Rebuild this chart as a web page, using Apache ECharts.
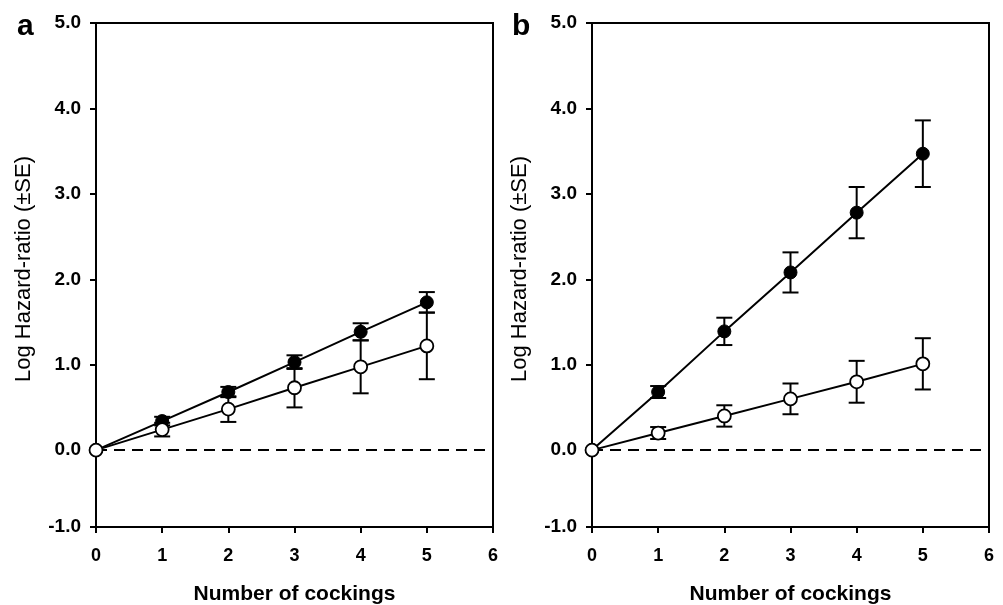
<!DOCTYPE html>
<html>
<head>
<meta charset="utf-8">
<script src="https://cdn.jsdelivr.net/npm/echarts@6/dist/echarts.min.js"></script>
<style>
  html, body { margin: 0; padding: 0; background: #fff; }
  #chart { width: 1003px; height: 605px; }
</style>
</head>
<body>
<div id="chart"></div>
<script>
const cockings = [0, 1, 2, 3, 4, 5];

// panel a
const aFilled = [0, 0.34, 0.68, 1.03, 1.385, 1.73];
const aFilledSE = [0, 0.05, 0.06, 0.08, 0.10, 0.12];
const aOpen = [0, 0.24, 0.48, 0.73, 0.975, 1.22];
const aOpenSE = [0, 0.08, 0.15, 0.23, 0.31, 0.39];

// panel b
const bFilled = [0, 0.68, 1.39, 2.08, 2.78, 3.47];
const bFilledSE = [0, 0.07, 0.16, 0.235, 0.30, 0.39];
const bOpen = [0, 0.20, 0.40, 0.60, 0.80, 1.01];
const bOpenSE = [0, 0.07, 0.125, 0.18, 0.245, 0.30];

// the original plot puts its "-1.0" tick a little above -1 (the bottom gap is shorter)
const yTickValues = [-0.9, 0, 1, 2, 3, 4, 5];
const yTickLabels = ['-1.0', '0.0', '1.0', '2.0', '3.0', '4.0', '5.0'];

const font = '"Liberation Sans", Arial, sans-serif';

function pairs(ys) {
  return cockings.map((x, i) => [x, ys[i]]);
}

function errData(ys, se) {
  return cockings
    .map((x, i) => [x, ys[i] - se[i], ys[i] + se[i]])
    .filter((d, i) => se[i] > 0);
}

function renderErr(params, api) {
  const x = api.value(0);
  const lo = api.coord([x, api.value(1)]);
  const hi = api.coord([x, api.value(2)]);
  const hw = 8;
  const style = { stroke: '#000', lineWidth: 2 };
  return {
    type: 'group',
    children: [
      { type: 'line', shape: { x1: lo[0], y1: lo[1], x2: hi[0], y2: hi[1] }, style },
      { type: 'line', shape: { x1: lo[0] - hw, y1: lo[1], x2: lo[0] + hw, y2: lo[1] }, style },
      { type: 'line', shape: { x1: hi[0] - hw, y1: hi[1], x2: hi[0] + hw, y2: hi[1] }, style }
    ]
  };
}

function xAxisFor(idx) {
  return {
    gridIndex: idx,
    type: 'value',
    min: 0,
    max: 6,
    interval: 1,
    name: 'Number of cockings',
    nameLocation: 'middle',
    nameGap: 57,
    nameTextStyle: { fontFamily: font, fontSize: 21, fontWeight: 'bold', color: '#000' },
    axisLine: { show: true, onZero: false, lineStyle: { color: '#000', width: 2 } },
    axisTick: { show: true, length: 6, lineStyle: { color: '#000', width: 2 } },
    axisLabel: { fontFamily: font, fontSize: 18, fontWeight: 'bold', color: '#000', margin: 20 },
    splitLine: { show: false }
  };
}

function yAxisFor(idx) {
  return {
    gridIndex: idx,
    type: 'value',
    min: -0.9,
    max: 5,
    axisLine: { show: true, lineStyle: { color: '#000', width: 2 } },
    axisTick: { show: true, length: 6, customValues: yTickValues, lineStyle: { color: '#000', width: 2 } },
    axisLabel: {
      customValues: yTickValues,
      formatter: v => yTickLabels[yTickValues.indexOf(v)],
      fontFamily: font, fontSize: 19, fontWeight: 'bold', color: '#000', margin: 15
    },
    splitLine: { show: false }
  };
}

function panelSeries(idx, filled, filledSE, open, openSE) {
  return [
    {
      type: 'line',
      xAxisIndex: idx, yAxisIndex: idx,
      data: [[0, 0], [6, 0]],
      symbol: 'none',
      lineStyle: { color: '#000', width: 2, type: [11, 7] },
      z: 1
    },
    {
      type: 'custom',
      xAxisIndex: idx, yAxisIndex: idx,
      renderItem: renderErr,
      data: errData(filled, filledSE),
      z: 2
    },
    {
      type: 'custom',
      xAxisIndex: idx, yAxisIndex: idx,
      renderItem: renderErr,
      data: errData(open, openSE),
      z: 2
    },
    {
      type: 'line',
      xAxisIndex: idx, yAxisIndex: idx,
      data: pairs(filled),
      symbol: 'circle',
      symbolSize: 13,
      showAllSymbol: true,
      lineStyle: { color: '#000', width: 2 },
      itemStyle: { color: '#000', borderColor: '#000', borderWidth: 1 },
      z: 3
    },
    {
      type: 'line',
      xAxisIndex: idx, yAxisIndex: idx,
      data: pairs(open),
      symbol: 'circle',
      symbolSize: 13,
      showAllSymbol: true,
      lineStyle: { color: '#000', width: 2 },
      itemStyle: { color: '#fff', borderColor: '#000', borderWidth: 1.8 },
      z: 4
    }
  ];
}

function yTitle(x) {
  return {
    type: 'text',
    x: x,
    y: 269,
    rotation: Math.PI / 2,
    style: {
      text: 'Log Hazard-ratio (±SE)',
      font: '22px ' + font,
      fill: '#000',
      align: 'center',
      verticalAlign: 'middle'
    }
  };
}

function panelLetter(text, x) {
  return {
    type: 'text',
    x: x,
    y: 27,
    style: {
      text: text,
      font: 'bold 30px ' + font,
      fill: '#000',
      align: 'left',
      verticalAlign: 'middle'
    }
  };
}

const chart = echarts.init(document.getElementById('chart'));
chart.setOption({
  animation: false,
  backgroundColor: '#fff',
  grid: [
    { left: 96, top: 23, width: 397, height: 504, outerBoundsMode: 'none', show: true, borderColor: '#000', borderWidth: 2 },
    { left: 592, top: 23, width: 397, height: 504, outerBoundsMode: 'none', show: true, borderColor: '#000', borderWidth: 2 }
  ],
  xAxis: [xAxisFor(0), xAxisFor(1)],
  yAxis: [yAxisFor(0), yAxisFor(1)],
  graphic: [yTitle(24), yTitle(520), panelLetter('a', 17), panelLetter('b', 512)],
  series: [
    ...panelSeries(0, aFilled, aFilledSE, aOpen, aOpenSE),
    ...panelSeries(1, bFilled, bFilledSE, bOpen, bOpenSE)
  ]
});
</script>
</body>
</html>
